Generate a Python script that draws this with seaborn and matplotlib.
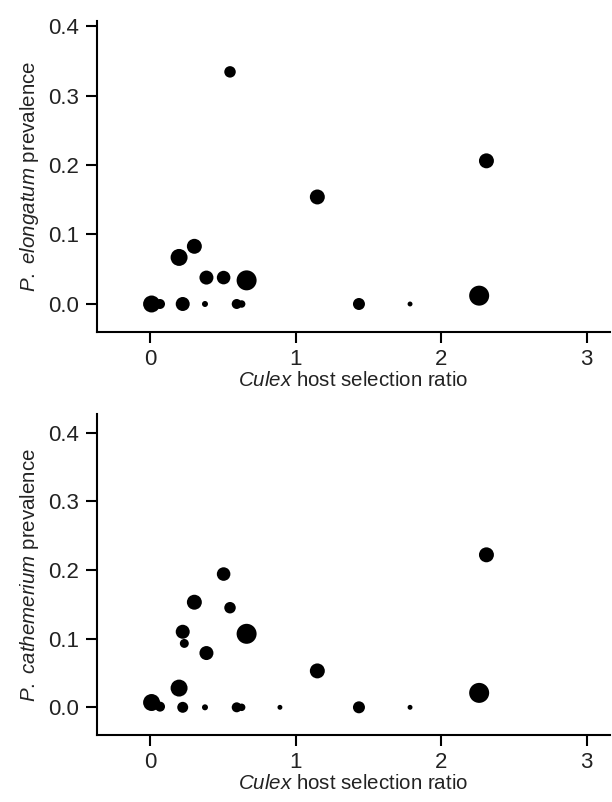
import numpy as np
import pandas as pd
import matplotlib
matplotlib.use("Agg")
import matplotlib.pyplot as plt
import seaborn as sns

# ---- data ----
selection_ratio = [0.011, 0.069, 0.200, 0.225, 0.236, 0.225, 0.305, 0.378, 0.388, 0.506,
                   0.550, 0.596, 0.630, 0.664, 0.893, 1.150, 1.436, 1.787, 2.262, 2.312]
birds_sampled = [72, 25, 72, 49, 20, 30, 56, 9, 49, 46,
                 33, 25, 14, 100, 6, 56, 36, 6, 100, 56]
elongatum_prev = [0.000, 0.000, 0.067, 0.000, 0.000, 0.000, 0.083, 0.000, 0.038, 0.038,
                  0.334, 0.000, 0.000, 0.034, np.nan, 0.154, 0.000, 0.000, 0.012, 0.206]
cathemerium_prev = [0.007, 0.001, 0.028, 0.110, 0.093, 0.000, 0.153, 0.000, 0.079, 0.194,
                    0.145, 0.000, 0.000, 0.107, 0.000, 0.053, 0.000, 0.000, 0.021, 0.222]
x_ticks = [0, 1, 2, 3]
y_ticks = [0.0, 0.1, 0.2, 0.3, 0.4]

df = pd.DataFrame({"ratio": selection_ratio, "n": birds_sampled,
                   "elong": elongatum_prev, "cath": cathemerium_prev})

sns.set_theme(style="ticks")
plt.rcParams["font.family"] = ["Liberation Sans", "DejaVu Sans"]
plt.rcParams["mathtext.fontset"] = "custom"
plt.rcParams["mathtext.rm"] = "Liberation Sans"
plt.rcParams["mathtext.it"] = "Liberation Sans:italic"

DPI = 100
fig = plt.figure(figsize=(6.12, 8.02), dpi=DPI)
ax_top = fig.add_axes([97/612, 1-332/802, 513/612, 311/802])
ax_bot = fig.add_axes([97/612, 1-735/802, 513/612, 321/802])

k = (2 * 72 / DPI) ** 2  # marker area per sample
nmin, nmax = min(birds_sampled), max(birds_sampled)

panels = [
    (ax_top, "elong", "P.", "elongatum", (-0.0403, 0.4072)),
    (ax_bot, "cath", "P.", "cathemerium", (-0.0403, 0.427)),
]
for ax, col, genus, species, ylim in panels:
    sns.scatterplot(data=df, x="ratio", y=col, size="n", sizes=(k*nmin, k*nmax),
                    size_norm=(nmin, nmax), color="black", linewidth=0,
                    legend=False, ax=ax, alpha=1)
    ax.set_xlim(-0.364, 3.161)
    ax.set_ylim(*ylim)
    ax.set_xticks(x_ticks)
    ax.set_xticklabels([str(t) for t in x_ticks])
    ax.set_yticks(y_ticks)
    ax.set_yticklabels([f"{t:.1f}" for t in y_ticks])
    sns.despine(ax=ax)
    for s in ["left", "bottom"]:
        ax.spines[s].set_linewidth(1.5)
        ax.spines[s].set_color("black")
    ax.tick_params(axis="both", direction="out", length=8, width=1.5,
                   colors="black", labelsize=16, labelcolor="#222222")
    ax.tick_params(axis="y", pad=5)
    ax.tick_params(axis="x", pad=4)
    ax.set_xlabel(r"$\mathit{Culex}$ host selection ratio", fontsize=14.8,
                  color="#222222", labelpad=1)
    ax.set_ylabel(r"$\mathit{" + genus + r"}$ $\mathit{" + species + r"}$ prevalence",
                  fontsize=14.8, color="#222222", labelpad=5)

fig.savefig("out.png", dpi=DPI)
